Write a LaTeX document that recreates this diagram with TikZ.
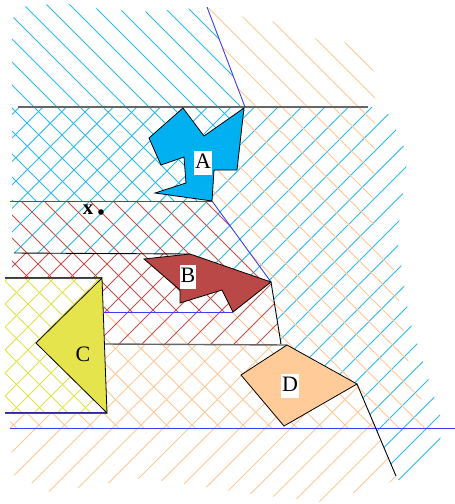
\documentclass[tikz,border=0pt]{standalone}
\usepackage{fontspec}
\setmainfont{Liberation Serif}
\definecolor{cyanH}{RGB}{40,185,240}
\definecolor{orH}{RGB}{255,198,150}
\definecolor{redH}{RGB}{192,80,77}
\definecolor{yelH}{RGB}{225,225,70}
\definecolor{fillA}{RGB}{0,176,240}
\definecolor{fillB}{RGB}{185,72,70}
\definecolor{fillC}{RGB}{230,228,76}
\definecolor{fillD}{RGB}{255,204,153}
\definecolor{lblue}{RGB}{60,60,240}
\newcommand\hatchBS[4]{% colour, spacing, phase, clip path
  \begin{scope}\clip #4;
  \foreach \k in {0,...,60}{\draw[hatchline,#1] ({#3+#2*\k-700},0) -- ++(620,620);}
  \end{scope}}
\newcommand\hatchFS[4]{%
  \begin{scope}\clip #4;
  \foreach \k in {0,...,60}{\draw[hatchline,#1] ({#3+#2*\k},0) -- ++(-620,620);}
  \end{scope}}
\tikzset{
  hatchline/.style={line width=0.8pt},
  shapeline/.style={draw=black,line width=0.8pt,line join=miter},
  lbl/.style={fill=white,inner sep=1pt,text height=16pt,text depth=6pt,font=\fontsize{22}{22}\selectfont},
  sepblue/.style={draw=lblue,line width=0.9pt},
  sepgray/.style={draw=black!60,line width=1.4pt},
  sepblack/.style={draw=black,line width=0.9pt}
}
\begin{document}
\begin{tikzpicture}[x=1pt,y=-1pt]
\useasboundingbox (0,0) rectangle (455,504);
% ---- hatching ----
% cyan "\" region
\hatchBS{cyanH}{23}{6}{(12,20) -- (20,7) -- (62,3) -- (91,8) -- (141,12) -- (186,9) -- (207,7) -- (245,107) -- (237,170) -- (214,170) -- (212,201) -- (12,201) -- cycle}
% cyan "/" region
\hatchFS{cyanH}{23.5}{9}{(12,107) -- (385,107) -- (408,155) -- (397,237) -- (409,318) -- (443,425) -- (437,455) -- (415,480) -- (398,480) -- (357,384) -- (287,345) -- (281,344) -- (271,282) -- (190,254) -- (12,253) -- cycle}
% orange "\" region
\hatchBS{orH}{25.5}{8}{(207,7) -- (214,11) -- (245,17) -- (276,22) -- (319,40) -- (350,43) -- (373,66) -- (375,95) -- (374,225) -- (394,268) -- (408,360) -- (425,410) -- (443,428) -- (10,428) -- (10,413) -- (107,413) -- (104,312) -- (233,312) -- (271,282) -- (212,201) -- (214,170) -- (237,170) -- (245,107) -- cycle}
% orange "/" region
\hatchFS{orH}{25.5}{5}{(104,344) -- (281,344) -- (287,345) -- (357,384) -- (398,480) -- (322,502) -- (258,495) -- (143,478) -- (50,492) -- (12,474) -- (10,413) -- (107,413) -- cycle}
% red "\" region
\hatchBS{redH}{23}{14}{(12,201) -- (212,201) -- (271,282) -- (233,312) -- (104,312) -- (102,278) -- (12,278) -- cycle}
% red "/" region
\hatchFS{redH}{23}{3}{(12,253) -- (190,254) -- (271,282) -- (281,344) -- (105,344) -- (102,278) -- (12,278) -- cycle}
% yellow cross region
\hatchBS{yelH}{23}{10}{(5,278) -- (102,278) -- (107,413) -- (5,413) -- cycle}
\hatchFS{yelH}{23}{10}{(5,278) -- (102,278) -- (107,413) -- (5,413) -- cycle}
% ---- separator lines ----
\draw[sepgray] (18,107) -- (368,107);
\draw[sepblue] (207,7) -- (245,107);
\draw[sepblue] (10,201) -- (212,201);
\draw[sepblue] (212,201) -- (271,282);
\draw[sepblack] (14,253) -- (190,254);
\draw[draw=lblue!70!black,line width=0.8pt] (5,277.6) -- (102,277.6);
\draw[black!70,line width=0.8pt] (5,278.6) -- (102,278.6);
\draw[sepblue] (104,312) -- (233,312);
\draw[sepblack] (271,282) -- (281,344);
\draw[sepgray] (105,344) -- (287,345);
\draw[draw=lblue!70!black,line width=0.8pt] (5,412.6) -- (107,412.6);
\draw[black!70,line width=0.8pt] (5,413.6) -- (107,413.6);
\draw[sepblue] (10,428) -- (455,428);
\draw[sepblack] (357,384) -- (396,476);
% ---- shapes ----
\draw[shapeline,fill=fillA] (183,108) -- (204,136) -- (244,108) -- (237,170) -- (214,170) -- (212,201) -- (155,193) -- (186,183) -- (184,157) -- (161,165) -- (149,138) -- cycle;
\draw[shapeline,fill=fillB] (144,259) -- (180,290) -- (180,303) -- (222,290) -- (233,312) -- (271,282) -- (190,254) -- cycle;
\draw[shapeline,fill=fillC] (102,278) -- (36,343) -- (107,413) -- cycle;
\draw[shapeline,fill=fillD] (287,345) -- (357,384) -- (284,426) -- (241,375) -- cycle;
% ---- labels ----
\node[lbl] (la) at (203,163) {A};
\node[lbl] (lb) at (188,277) {B};
\node[lbl,fill=none] (lc) at (83,356) {C};
\node[lbl] (ld) at (290,386) {D};
\node[font=\bfseries\fontsize{21}{21}\selectfont,inner sep=0pt] (lx) at (88,210) {x};
\fill (101,212) circle (2.8);
\end{tikzpicture}
\end{document}
